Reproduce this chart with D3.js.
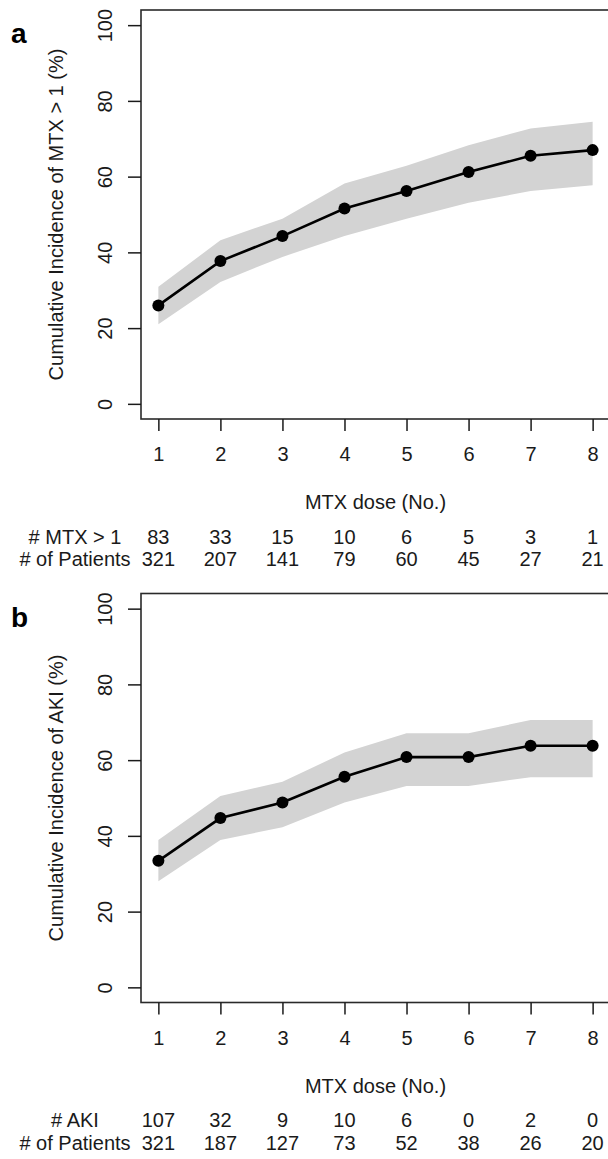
<!DOCTYPE html>
<html>
<head>
<meta charset="utf-8">
<script src="https://cdn.jsdelivr.net/npm/d3@7"></script>
<style>
    body { margin: 0; background: #fff; }
    svg { display: block; font-family: "Liberation Sans", Arial, Helvetica, sans-serif; }
</style>
</head>
<body>
<div id="chart"></div>
<script>
// Shared x categories and y ticks
const doses = [1, 2, 3, 4, 5, 6, 7, 8];
const yTicks = [0, 20, 40, 60, 80, 100];

// Panel a: cumulative incidence of MTX > 1
const mtxIncidence = [26.0, 37.7, 44.3, 51.6, 56.2, 61.2, 65.5, 67.0];
const mtxLower = [21.0, 32.2, 38.8, 44.3, 48.9, 53.1, 56.2, 57.7];
const mtxUpper = [30.9, 43.2, 48.9, 58.2, 62.9, 68.3, 72.7, 74.5];
const mtxEvents = [83, 33, 15, 10, 6, 5, 3, 1];
const mtxPatients = [321, 207, 141, 79, 60, 45, 27, 21];

// Panel b: cumulative incidence of AKI
const akiIncidence = [33.4, 44.7, 48.8, 55.6, 60.8, 60.8, 63.8, 63.8];
const akiLower = [28.0, 38.9, 42.3, 48.8, 53.2, 53.2, 55.5, 55.5];
const akiUpper = [38.9, 50.5, 54.3, 62.0, 67.1, 67.1, 70.6, 70.6];
const akiEvents = [107, 32, 9, 10, 6, 0, 2, 0];
const akiPatients = [321, 187, 127, 73, 52, 38, 26, 20];

const panels = [
    { tag: 'a', top: 10, ylab: 'Cumulative Incidence of MTX > 1 (%)', est: mtxIncidence, lo: mtxLower, hi: mtxUpper,
      rows: [['# MTX > 1', mtxEvents], ['# of Patients', mtxPatients]] },
    { tag: 'b', top: 593.5, ylab: 'Cumulative Incidence of AKI (%)', est: akiIncidence, lo: akiLower, hi: akiUpper,
      rows: [['# AKI', akiEvents], ['# of Patients', akiPatients]] }
];

const W = 608, H = 1159;
const left = 141, right = 610, plotH = 409;
const ink = '#1a1a1a';

const svg = d3.select('#chart').append('svg')
    .attr('width', W).attr('height', H);

// R style: axis range padded by 4% on each side
const x = d3.scaleLinear().domain([0.72, 8.28]).range([left, right]);

panels.forEach(p => {
    const g = svg.append('g').attr('transform', `translate(0,${p.top})`);
    const y = d3.scaleLinear().domain([-4, 104]).range([plotH, 0]);

    const pts = doses.map((d, i) => ({ dose: d, est: p.est[i], lo: p.lo[i], hi: p.hi[i] }));

    // confidence band
    g.append('path')
        .datum(pts)
        .attr('fill', '#d3d3d3')
        .attr('d', d3.area().x(d => x(d.dose)).y0(d => y(d.lo)).y1(d => y(d.hi)));

    // line + points
    g.append('path')
        .datum(pts)
        .attr('fill', 'none')
        .attr('stroke', '#000')
        .attr('stroke-width', 2.6)
        .attr('d', d3.line().x(d => x(d.dose)).y(d => y(d.est)));

    g.selectAll('circle.pt').data(pts).enter().append('circle')
        .attr('class', 'pt')
        .attr('cx', d => x(d.dose))
        .attr('cy', d => y(d.est))
        .attr('r', 6)
        .attr('fill', '#000');

    // box
    g.append('rect')
        .attr('x', left).attr('y', 0)
        .attr('width', right - left).attr('height', plotH)
        .attr('fill', 'none')
        .attr('stroke', '#2a2a2a')
        .attr('stroke-width', 1.6);

    // y axis
    const yAxisG = g.append('g')
        .attr('transform', `translate(${left},0)`)
        .call(d3.axisLeft(y).tickValues(yTicks).tickSize(13).tickFormat(d3.format('d')));
    yAxisG.select('.domain').remove();
    yAxisG.selectAll('.tick line').attr('stroke', ink).attr('stroke-width', 1.5);
    yAxisG.selectAll('.tick text')
        .attr('x', 0).attr('dy', 0)
        .attr('text-anchor', 'middle')
        .attr('transform', 'translate(-29,0) rotate(-90)')
        .attr('fill', ink)
        .style('font-size', '20px');

    // x axis
    const xAxisG = g.append('g')
        .attr('transform', `translate(0,${plotH})`)
        .call(d3.axisBottom(x).tickValues(doses).tickSize(12).tickFormat(d3.format('d')));
    xAxisG.select('.domain').remove();
    xAxisG.selectAll('.tick line').attr('stroke', ink).attr('stroke-width', 1.5);
    xAxisG.selectAll('.tick text')
        .attr('y', 42).attr('dy', 0)
        .attr('fill', ink)
        .style('font-size', '20px');

    // axis titles
    g.append('text')
        .attr('transform', `translate(63,${plotH / 2}) rotate(-90)`)
        .attr('text-anchor', 'middle')
        .attr('fill', ink)
        .style('font-size', '20px')
        .text(p.ylab);

    g.append('text')
        .attr('x', (left + right) / 2)
        .attr('y', plotH + 90)
        .attr('text-anchor', 'middle')
        .attr('fill', ink)
        .style('font-size', '20px')
        .text('MTX dose (No.)');

    // panel tag
    g.append('text')
        .attr('x', 11).attr('y', 33)
        .attr('fill', '#000')
        .style('font-size', '28px')
        .style('font-weight', 'bold')
        .text(p.tag);

    // at-risk table
    p.rows.forEach(([label, vals], r) => {
        const ry = plotH + 124.5 + r * 22.5;
        g.append('text')
            .attr('x', 75).attr('y', ry)
            .attr('text-anchor', 'middle')
            .attr('fill', ink)
            .style('font-size', '20px')
            .text(label);
        g.selectAll(null).data(vals).enter().append('text')
            .attr('x', (d, i) => x(doses[i]))
            .attr('y', ry)
            .attr('text-anchor', 'middle')
            .attr('fill', ink)
            .style('font-size', '20px')
            .text(d => d);
    });
});
</script>
</body>
</html>
